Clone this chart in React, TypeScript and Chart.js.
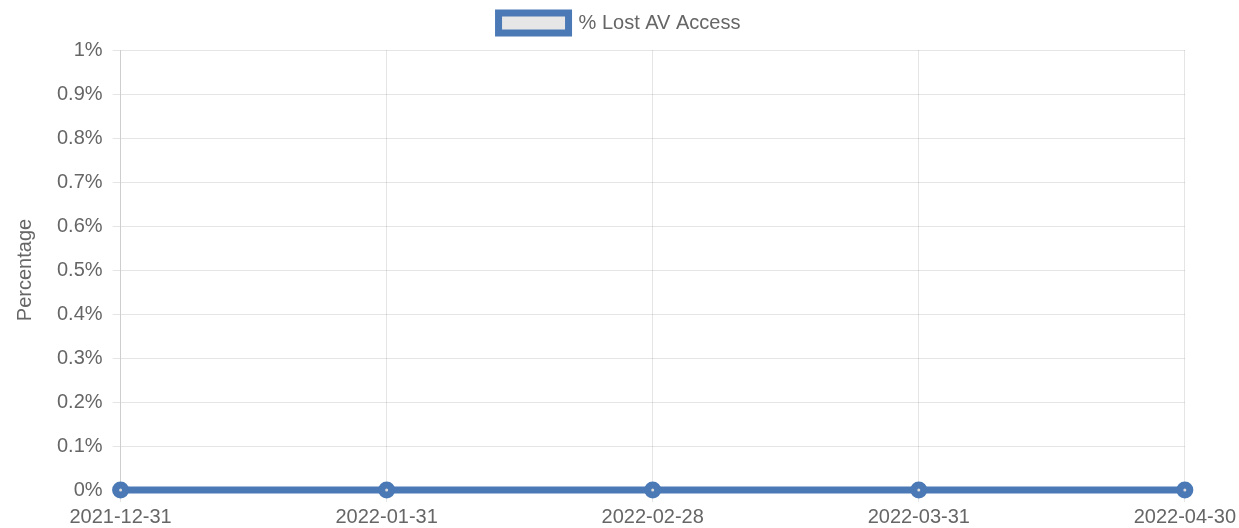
import React, { useEffect, useRef } from "react";
import { Chart, registerables } from "chart.js";

Chart.register(...registerables);

const categories = ["2021-12-31", "2022-01-31", "2022-02-28", "2022-03-31", "2022-04-30"];
const lostAvAccess = [0, 0, 0, 0, 0];
const seriesLabel = "% Lost AV Access";
const yAxisTitle = "Percentage";
const yMin = 0;
const yMax = 1;
const yStep = 0.1;

const legendGap = {
  id: "legendGap",
  beforeInit(chart: any) {
    const legend = chart.legend;
    if (!legend) return;
    const origFit = legend.fit;
    legend.fit = function () {
      origFit.call(this);
      this.height += 7;
    };
  },
};

export default function App() {
  const ref = useRef<HTMLCanvasElement | null>(null);
  useEffect(() => {
    if (!ref.current) return;
    const font = { family: "'Liberation Sans', Arial, sans-serif", size: 20 };
    const chart = new Chart(ref.current, {
      type: "line",
      data: {
        labels: categories,
        datasets: [
          {
            label: seriesLabel,
            data: lostAvAccess,
            borderColor: "#4a79b6",
            backgroundColor: "#e6e6e6",
            borderWidth: 7,
            pointRadius: 5,
            pointBorderWidth: 7,
            pointBackgroundColor: "#dcdcdc",
            pointBorderColor: "#4a79b6",
            fill: false,
            tension: 0,
            clip: false as any,
          },
        ],
      },
      plugins: [legendGap],
      options: {
        responsive: true,
        maintainAspectRatio: false,
        animation: false,
        layout: { padding: { top: 1 } },
        plugins: {
          legend: {
            display: true,
            position: "top",
            labels: { font, color: "#666", boxWidth: 70, boxHeight: 20, padding: 12 },
          },
          tooltip: { enabled: false },
        },
        scales: {
          x: {
            type: "category",
            offset: false,
            ticks: { font, color: "#666", maxRotation: 0, padding: 3 },
            grid: { color: "rgba(0,0,0,0.1)", tickLength: 12 },
          },
          y: {
            min: yMin,
            max: yMax,
            ticks: {
              stepSize: yStep,
              font,
              color: "#666",
              padding: 10,
              callback: (v: any) => `${+Number(v).toFixed(1)}%`,
            },
            grid: { color: "rgba(0,0,0,0.1)", tickLength: 8 },
            title: {
              display: true,
              text: yAxisTitle,
              font,
              color: "#666",
              padding: { top: 13, bottom: 10 },
            },
          },
        },
      },
    });
    return () => chart.destroy();
  }, []);
  return (
    <div style={{ position: "fixed", left: 0, top: 0, width: 1239, height: 532 }}>
      <canvas ref={ref} />
    </div>
  );
}
